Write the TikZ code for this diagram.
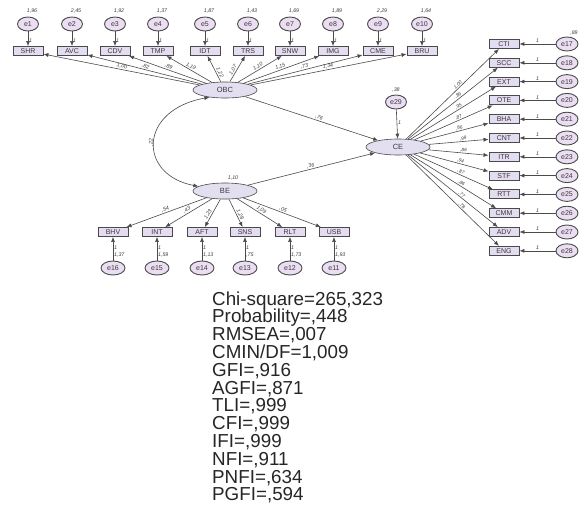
\documentclass[tikz,border=0pt]{standalone}
\usepackage{fontspec}
\setmainfont{Liberation Sans}
\usetikzlibrary{shapes.geometric,arrows.meta}
\definecolor{nodefill}{HTML}{E4DCF0}
\definecolor{latfill}{HTML}{E4DFF0}
\definecolor{errfill}{HTML}{ECDEF2}
\definecolor{edgecol}{HTML}{4A4A4A}
\definecolor{txt}{HTML}{3A3A3A}
\begin{document}
\begin{tikzpicture}[x=1pt,y=-1pt,
  obs/.style={rectangle, draw=edgecol, line width=0.9pt, fill=nodefill, minimum width=30pt, minimum height=9pt, inner sep=0pt, font=\fontsize{7}{7}\selectfont, text=txt},
  lat/.style={ellipse, draw=edgecol, line width=0.6pt, fill=latfill, minimum width=64pt, minimum height=16pt, inner sep=0pt, font=\fontsize{7.5}{8}\selectfont, text=txt},
  err/.style={ellipse, draw=edgecol, line width=0.9pt, fill=errfill, minimum width=21pt, minimum height=14pt, inner sep=0pt, font=\fontsize{7}{7}\selectfont, text=txt},
  arr/.style={draw=edgecol, line width=0.6pt, -{Latex[length=5pt,width=4pt]}},
  dbl/.style={draw=edgecol, line width=0.6pt, {Latex[length=5pt,width=4pt]}-{Latex[length=5pt,width=4pt]}},
  lbl/.style={font=\fontsize{5.3}{6}\selectfont\itshape, text=txt, inner sep=0.8pt},
  celbl/.style={font=\fontsize{4.8}{5}\selectfont\itshape, text=txt, inner sep=0.5pt},
  stat/.style={font=\fontsize{18.8}{18}\selectfont, text=black!85, inner sep=0pt, anchor=base west}]
\useasboundingbox (0,0) rectangle (582,507);

% latent variables
\node[lat] (OBC) at (225,90) {OBC};
\node[lat] (BE) at (225,191) {BE};
\node[lat] (CE) at (398,147) {CE};
\node[err] (e29) at (396,102) {e29};
\node[lbl] (v29) at (396,90) {,38};
\draw[arr] (e29) -- node[lbl, right, pos=0.45] {1} (CE);
\node[lbl] (v30) at (233,178) {1,10};

% top indicators of OBC
\foreach \n/\x/\l/\v/\p [count=\i] in {SHR/28/{1,00}/{1,96}/0.5, AVC/72/{,82}/{2,45}/0.5, CDV/115/{,89}/{1,92}/0.5, TMP/158/{1,19}/{1,37}/0.5, IDT/205/{1,22}/{1,87}/0.3, TRS/248/{1,07}/{1,43}/0.4, SNW/290/{1,10}/{1,69}/0.5, IMG/333/{1,15}/{1,89}/0.5, CME/378/{,73}/{2,29}/0.5, BRU/422/{1,34}/{1,64}/0.5} {
  \node[obs] (t\i) at (\x,51) {\n};
  \node[err] (e\i) at (\x,24) {e\i};
  \node[lbl] (tv\i) at (\x+4,11) {\v};
  \draw[arr] (e\i) -- node[lbl, right, pos=0.6] {1} (t\i);
  \draw[arr] (OBC) -- node[lbl, sloped, above, pos=\p] {\l} (t\i);
}

% bottom indicators of BE
\foreach \n/\x/\l/\v/\k/\p [count=\i] in {BHV/113/{,54}/{1,37}/16/0.5, INT/157/{,43}/{1,59}/15/0.5, AFT/202/{1,23}/{1,13}/14/0.6, SNS/245/{1,28}/{,75}/13/0.6, RLT/290/{1,09}/{1,73}/12/0.5, USB/334/{,05}/{1,93}/11/0.5} {
  \node[obs] (b\i) at (\x,232) {\n};
  \node[err, minimum width=24pt] (e\k) at (\x,268) {e\k};
  \draw[arr] (e\k) -- node[lbl, right, pos=0.55] {1} node[lbl, right, pos=0.25] {\v} (b\i);
  \draw[arr] (BE) -- node[lbl, sloped, above, pos=\p] {\l} (b\i);
}

% right indicators of CE
\foreach \n/\l [count=\i] in {CTI/{1,00}, SCC/{,89}, EXT/{,95}, OTE/{,87}, BHA/{,86}, CNT/{,99}, ITR/{,86}, STF/{,94}, RTT/{,87}, CMM/{,86}, ADV/{,77}, ENG/{,78}} {
  \pgfmathtruncatemacro{\k}{16+\i}
  \node[obs] (r\i) at (504,{44+18.8*(\i-1)}) {\n};
  \node[err, minimum width=22pt] (e\k) at (567,{44+18.8*(\i-1)}) {e\k};
  \draw[arr] (e\k) -- node[lbl, above, pos=0.5] {1} (r\i);
  \draw[arr] (CE) -- node[celbl, sloped, above, pos=0.58] {\l} (r\i);
}
\node[lbl] (v17) at (574,33) {,89};

% structural paths
\draw[arr] (OBC) -- node[lbl, sloped, above, pos=0.55] {,76} (CE);
\draw[arr] (BE) -- node[lbl, sloped, above, pos=0.5] {,36} (CE);
\draw[dbl] (OBC.205) .. controls (138,110) and (138,175) .. node[lbl, rotate=90, above, pos=0.5] {,22} (BE.170);

% fit statistics
\foreach \t [count=\i] in {{Chi-square=265,323}, {Probability=,448}, {RMSEA=,007}, {CMIN/DF=1,009}, {GFI=,916}, {AGFI=,871}, {TLI=,999}, {CFI=,999}, {IFI=,999}, {NFI=,911}, {PNFI=,634}, {PGFI=,594}} {
  \node[stat] (s\i) at (212,{305+17.8*(\i-1)}) {\t};
}
\end{tikzpicture}
\end{document}
